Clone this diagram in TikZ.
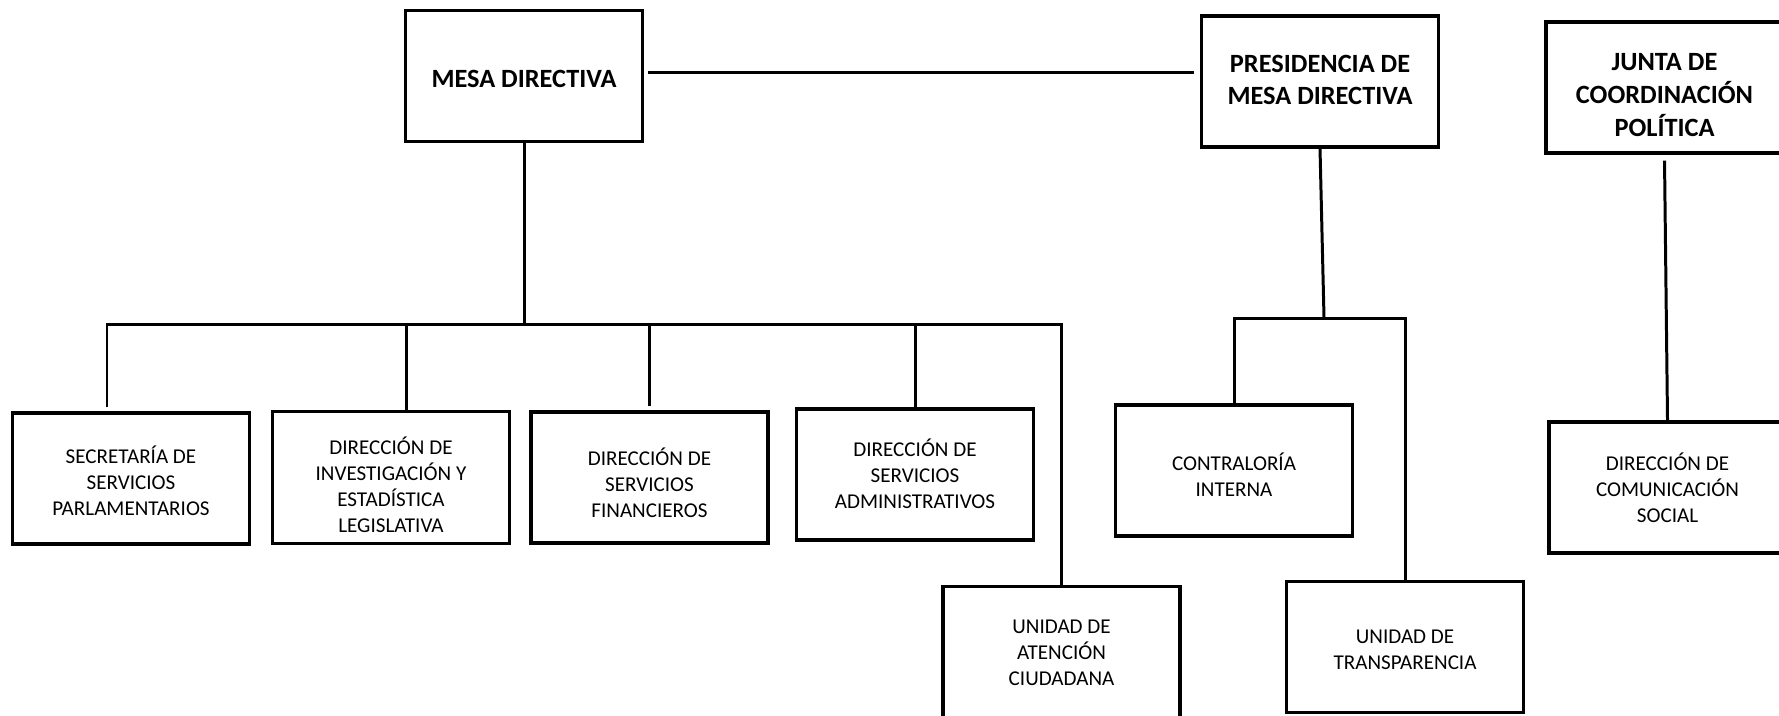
\documentclass[tikz,border=0pt]{standalone}
\usepackage{fontspec}
\setmainfont{Carlito}
\usetikzlibrary{positioning}

\begin{document}
\begin{tikzpicture}[
    every node/.style={minimum width=2.37cm,minimum height=1.31cm,inner sep=0pt,align=center,line width=0.9pt,font=\fontsize{6}{7.4}\selectfont,execute at end node={\rule[-3pt]{0pt}{0pt}},draw},
    head/.style={font=\bfseries\fontsize{7.5}{9.3}\selectfont},
    lift/.style={execute at begin node={\rule{0pt}{#1}}},
    line width=0.85pt
    ]
    \useasboundingbox (0,0) rectangle (17.79,-7.15);

    % organos de gobierno
    \node[head,lift=9.5pt] (mesa) at (5.24,-0.76) {MESA DIRECTIVA};
    \node[head,lift=16.3pt] (pres) at (13.20,-0.815) {PRESIDENCIA DE\\MESA DIRECTIVA};
    \node[head,lift=30.7pt] (junta) at (16.645,-0.875) {JUNTA DE\\COORDINACIÓN\\POLÍTICA};

    % areas de la mesa directiva
    \node[lift=24.2pt] (sec) at (1.31,-4.785) {SECRETARÍA DE\\SERVICIOS\\PARLAMENTARIOS};
    \node[lift=34.5pt] (inv) at (3.91,-4.775) {DIRECCIÓN DE\\INVESTIGACIÓN Y\\ESTADÍSTICA\\LEGISLATIVA};
    \node[lift=25.9pt] (fin) at (6.495,-4.775) {DIRECCIÓN DE\\SERVICIOS\\FINANCIEROS};
    \node[lift=22.2pt] (adm) at (9.15,-4.745) {DIRECCIÓN DE\\SERVICIOS\\ADMINISTRATIVOS};
    \node[lift=22.2pt] (aten) at (10.615,-6.52) {UNIDAD DE\\ATENCIÓN\\CIUDADANA};

    % areas de la presidencia y de la junta
    \node[lift=18pt] (contr) at (12.34,-4.705) {CONTRALORÍA\\INTERNA};
    \node[lift=15.7pt] (transp) at (14.05,-6.47) {UNIDAD DE\\TRANSPARENCIA};
    \node[lift=22.8pt] (com) at (16.675,-4.875) {DIRECCIÓN DE\\COMUNICACIÓN\\SOCIAL};

    \coordinate (bus) at (0,-3.24);
    \coordinate (bus2) at (0,-3.18);

    \draw ([shift={(0.04,0.04)}]mesa.east) -- ([shift={(-0.06,0.04)}]mesa.east -| pres.west);
    \draw (mesa.south) -- (mesa.south |- bus);
    \draw ([shift={(-0.24,0.04)}]sec.north) |- (bus -| aten.north) -- (aten.north);
    \draw ([xshift=0.15cm]inv.north) -- ([xshift=0.15cm]inv.north |- bus);
    \draw ([yshift=0.04cm]fin.north) -- (fin.north |- bus);
    \draw (adm.north) -- (adm.north |- bus);

    \draw (pres.south) -- ([xshift=0.04cm]pres.south |- bus2);
    \draw (contr.north) |- (bus2 -| transp.north) -- (transp.north);

    \draw ([yshift=-0.06cm]junta.south) -- (com.north);
  \end{tikzpicture}
\end{document}
